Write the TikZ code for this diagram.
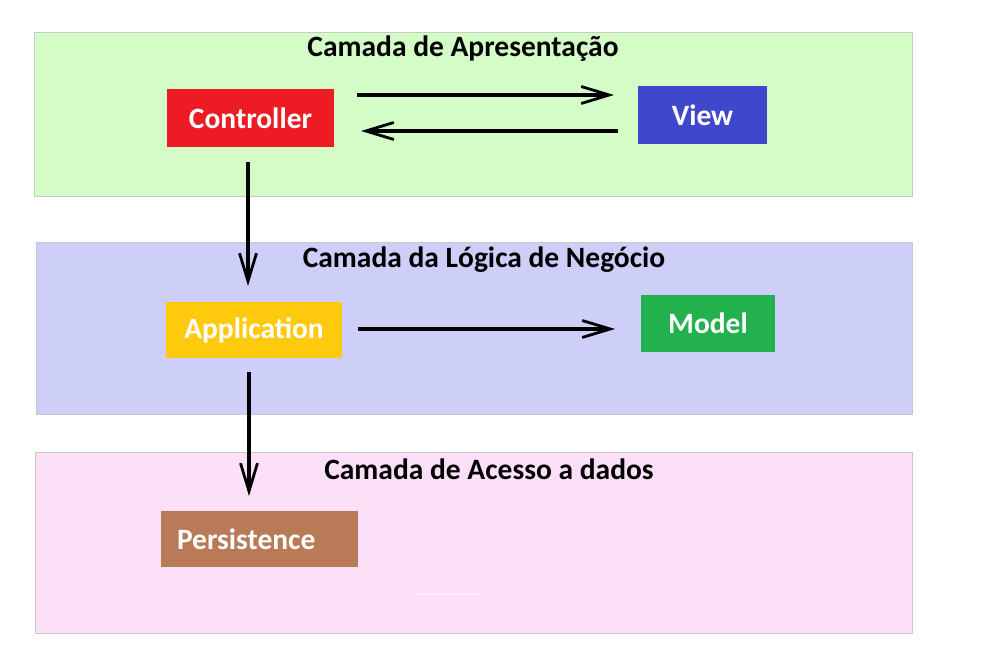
\documentclass[tikz,border=0pt]{standalone}
\usepackage{fontspec}
\setmainfont{Carlito}
\usetikzlibrary{arrows.meta}
\definecolor{layA}{HTML}{D3FCC7}
\definecolor{layB}{HTML}{CDCFF9}
\definecolor{layC}{HTML}{FCE0F8}
\definecolor{layBorder}{HTML}{C8C8C8}
\definecolor{cRed}{HTML}{ED1C24}
\definecolor{cBlue}{HTML}{3F48CC}
\definecolor{cYellow}{HTML}{FFC90E}
\definecolor{cGreen}{HTML}{22B14C}
\definecolor{cBrown}{HTML}{B97A57}
\begin{document}
\begin{tikzpicture}[x=1pt,y=-1pt,
  layer/.style={draw=layBorder,line width=0.8pt},
  comp/.style={anchor=center,inner sep=0pt,font=\bfseries\fontsize{29.5}{34}\selectfont,text=white},
  ttl/.style={font=\bfseries\fontsize{29.5}{34}\selectfont,text=black},
  arr/.style={line width=3.2pt,-{Straight Barb[length=28pt,width=17pt,line width=2.8pt]}}]
\useasboundingbox[fill=white] (0,0) rectangle (986,655);
% layers
\filldraw[layer,fill=layA] (34,32) rectangle (912,196);
\filldraw[layer,fill=layB] (36,242) rectangle (912,414);
\filldraw[layer,fill=layC] (35,452) rectangle (912,633);
% titles
\node[ttl] (t1) at (463,48.5) {Camada de Apresentação};
\node[ttl] (t2) at (484,259.5) {Camada da Lógica de Negócio};
\node[ttl] (t3) at (489,469.5) {Camada de Acesso a dados};
% components
\node[comp,fill=cRed,minimum width=167pt,minimum height=58pt] (ctrl) at (250.5,118) {Controller};
\node[comp,fill=cBlue,minimum width=129pt,minimum height=58pt] (view) at (702.5,115) {View};
\node[comp,fill=cYellow,minimum width=176pt,minimum height=56pt] (app) at (254,330) {Application};
\node[comp,fill=cGreen,minimum width=134pt,minimum height=57pt] (model) at (708,323.5) {Model};
\node[comp,fill=cBrown,minimum width=197pt,minimum height=56pt,text width=197pt,align=left] (pers) at (259.5,539) {\hspace*{16pt}Persistence};
% connector anchor points
\coordinate (c1s) at (357,95);
\coordinate (c1e) at (614,95);
\coordinate (c2s) at (618,131);
\coordinate (c2e) at (361,131);
\coordinate (c3s) at (248,162);
\coordinate (c3e) at (248,286);
\coordinate (c4s) at (358,329);
\coordinate (c4e) at (615,329);
\coordinate (c5s) at (249,372);
\coordinate (c5e) at (249,496);
\draw[arr] (c1s) -- (c1e);
\draw[arr] (c2s) -- (c2e);
\draw[arr] (c3s) -- (c3e);
\draw[arr] (c4s) -- (c4e);
\draw[arr] (c5s) -- (c5e);
% faint artefact lines
\draw[white,line width=0.8pt] (418,594) -- (480,594);
\end{tikzpicture}
\end{document}
